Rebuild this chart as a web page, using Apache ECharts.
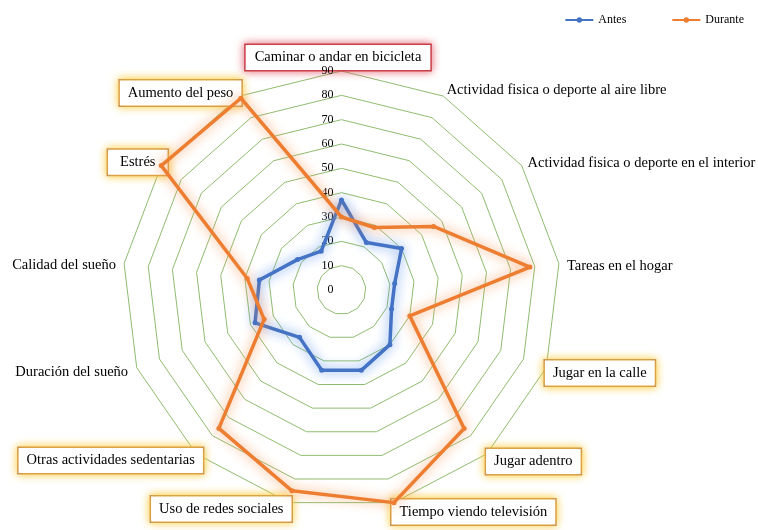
<!DOCTYPE html>
<html>
<head>
<meta charset="utf-8">
<script src="https://cdn.jsdelivr.net/npm/echarts@6/dist/echarts.min.js"></script>
<style>
  html, body { margin: 0; padding: 0; background: #fff; }
  #chart { width: 758px; height: 530px; }
</style>
</head>
<body>
<div id="chart"></div>
<script>
// categories, clockwise from the top
var categories = [
    'Caminar o andar en bicicleta',
    'Actividad fisica o deporte al aire libre',
    'Actividad fisica o deporte en el interior',
    'Tareas en el hogar',
    'Jugar en la calle',
    'Jugar adentro',
    'Tiempo viendo televisión',
    'Uso de redes sociales',
    'Otras actividades sedentarias',
    'Duración del sueño',
    'Calidad del sueño',
    'Estrés',
    'Aumento del peso'
];
var antes = [37, 22, 30, 22, 22, 30, 34, 34, 26, 38, 34, 22, 18];
var durante = [30, 29, 46, 78, 30, 76, 90, 85, 76, 34, 39, 90, 89];
var seriesNames = ['Antes', 'Durante'];
var axisMax = 90;

// how each category label is framed, and how far it is nudged (outward px, down px)
var labelFrame = ['red', 'plain', 'plain', 'plain', 'box', 'box', 'box', 'box', 'box', 'plain', 'plain', 'box', 'box'];
var nameShift = [[7, -11], [8, -15], [14, -8], [18, 1], [8, 9], [6, 15], [0, 19],
                 [0, 16], [0, 14], [18, 8], [18, 0], [2, -9], [3, -12]];

var serif = 'Liberation Serif';
var nameSize = 14.5;
var legendIcon = 'path://M0,2H26V4H0Z M10.5,3a2.5,2.5 0 1,1 5,0a2.5,2.5 0 1,1 -5,0Z';

// echarts lays radar axes counter-clockwise, so walk the lists backwards after the first one
function clockwise(arr) {
    return [arr[0]].concat(arr.slice(1).reverse());
}

var rich = {
    plain: { fontFamily: serif, fontSize: nameSize, color: '#000' },
    box: {
        fontFamily: serif, fontSize: nameSize, color: '#000',
        padding: [5, 8], backgroundColor: '#fff',
        borderColor: '#c58a55', borderWidth: 1.5,
        shadowColor: 'rgba(255,200,40,0.9)', shadowBlur: 8
    },
    red: {
        fontFamily: serif, fontSize: nameSize, color: '#000',
        padding: [5, 9], backgroundColor: '#fff',
        borderColor: '#c0393f', borderWidth: 1.5,
        shadowColor: 'rgba(225,80,95,0.8)', shadowBlur: 8
    }
};
nameShift.forEach(function (s, i) {
    rich['h' + i] = { fontSize: 1, width: s[0], lineHeight: 1 };
    rich['v' + i] = { fontSize: 1, width: 1, lineHeight: i === 0 ? Math.abs(s[1]) : 2 * Math.abs(s[1]) };
});
rich.box11 = echarts.util.merge({ padding: [5, 12] }, rich.box);

function nameFormatter(value) {
    var i = categories.indexOf(value);
    var s = nameShift[i];
    var frame = (i === 11) ? 'box11' : labelFrame[i];
    var line = '{' + frame + '|' + value + '}';
    if (s[0] > 0) {
        var h = '{h' + i + '| }';
        line = (i >= 1 && i <= 6) ? h + line : line + h;
    }
    var v = '{v' + i + '| }';
    if (s[1] > 0) return v + '\n' + line;
    if (s[1] < 0) return line + '\n' + v;
    return line;
}

var myChart = echarts.init(document.getElementById('chart'));

var option = {
    backgroundColor: '#fff',
    color: ['#4472C4', '#ED7D31'],
    legend: {
        right: 9,
        top: 9,
        itemWidth: 28,
        itemHeight: 6,
        itemGap: 46,
        textStyle: { fontFamily: serif, fontSize: 12, color: '#000' },
        data: [
            { name: seriesNames[0], icon: legendIcon },
            { name: seriesNames[1], icon: legendIcon }
        ]
    },
    radar: {
        center: [341.5, 290],
        radius: 219,
        startAngle: 90,
        shape: 'polygon',
        splitNumber: 9,
        nameGap: -10,
        indicator: clockwise(categories).map(function (c, i) {
            var ind = { name: c, min: 0, max: axisMax };
            if (i === 0) {
                ind.axisLabel = { show: true };
                ind.nameMoveOverlap = false;
            }
            return ind;
        }),
        axisName: {
            color: '#000',
            fontFamily: serif,
            fontSize: nameSize,
            formatter: nameFormatter,
            rich: rich
        },
        axisLine: { show: false },
        axisTick: { show: false },
        axisLabel: {
            show: false,
            color: '#000',
            fontFamily: serif,
            fontSize: 12,
            margin: 8,
            showMinLabel: true,
            showMaxLabel: true
        },
        splitLine: { lineStyle: { color: '#8fbd70', width: 1 } },
        splitArea: { show: false }
    },
    series: [
        {
            type: 'radar',
            symbol: 'circle',
            symbolSize: 5,
            lineStyle: { width: 3.5, shadowColor: 'rgba(80,140,240,0.95)', shadowBlur: 12 },
            data: [
                { name: seriesNames[0], value: clockwise(antes) }
            ]
        },
        {
            type: 'radar',
            symbol: 'circle',
            symbolSize: 5,
            lineStyle: { width: 3.5, shadowColor: 'rgba(250,150,80,0.95)', shadowBlur: 12 },
            data: [
                { name: seriesNames[1], value: clockwise(durante) }
            ]
        }
    ]
};

myChart.setOption(option);
</script>
</body>
</html>
